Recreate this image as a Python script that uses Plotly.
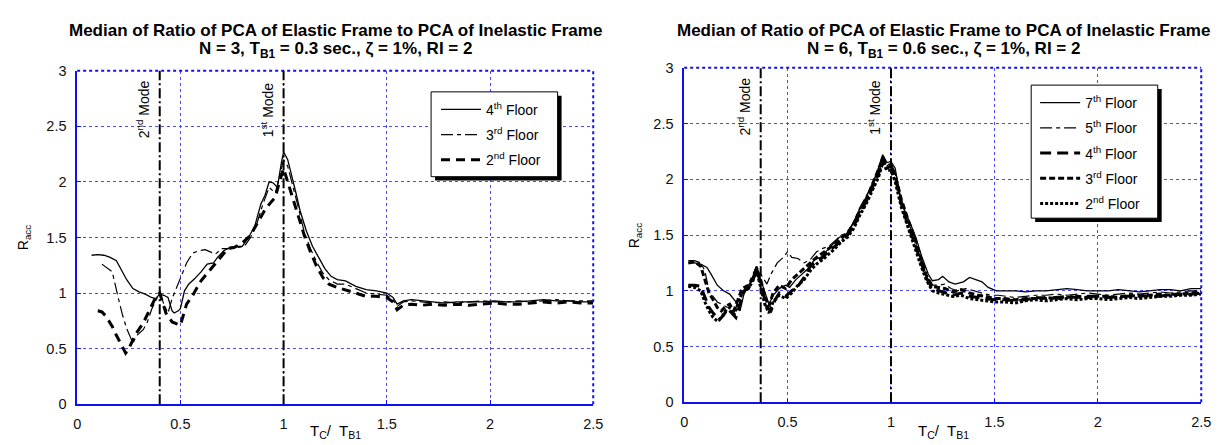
import plotly.graph_objects as go

# ---------------- data: left panel (N = 3) ----------------
L4_x = [0.07,0.10,0.13,0.16,0.19,0.21,0.24,0.27,0.30,0.33,0.36,0.38,0.40,0.42,0.44,0.46,0.47,0.49,0.50,0.52,0.54,0.57,0.60,0.63,0.66,0.68,0.71,0.74,0.77,0.80,0.83,0.86,0.89,0.91,0.93,0.95,0.97,0.99,1.00,1.02,1.04,1.06,1.08,1.11,1.14,1.17,1.20,1.23,1.26,1.30,1.35,1.40,1.45,1.50,1.53,1.55,1.58,1.62,1.67,1.72,1.78,1.84,1.90,1.96,2.02,2.08,2.14,2.20,2.26,2.32,2.38,2.44,2.50]
L4_y = [1.34,1.345,1.34,1.32,1.29,1.22,1.12,1.04,1.01,0.99,0.96,0.95,0.99,0.98,0.96,0.84,0.82,0.84,0.86,1.02,1.08,1.13,1.19,1.26,1.27,1.32,1.38,1.41,1.42,1.42,1.50,1.60,1.80,1.88,2.00,1.99,1.95,2.18,2.27,2.20,2.06,1.90,1.74,1.56,1.42,1.32,1.22,1.15,1.12,1.11,1.06,1.03,1.02,1.00,0.96,0.90,0.93,0.94,0.93,0.92,0.91,0.92,0.92,0.92,0.93,0.92,0.92,0.93,0.94,0.93,0.93,0.92,0.92]

L3_x = [0.12,0.15,0.17,0.20,0.22,0.24,0.27,0.29,0.32,0.34,0.36,0.38,0.40,0.42,0.44,0.46,0.48,0.50,0.53,0.56,0.59,0.62,0.65,0.67,0.70,0.74,0.78,0.81,0.84,0.87,0.90,0.93,0.96,0.98,1.00,1.02,1.04,1.07,1.10,1.13,1.16,1.19,1.22,1.26,1.30,1.35,1.40,1.45,1.50,1.53,1.55,1.58,1.62,1.67,1.72,1.78,1.84,1.90,1.96,2.02,2.08,2.14,2.20,2.26,2.32,2.38,2.44,2.50]
L3_y = [1.26,1.22,1.19,0.95,0.80,0.68,0.55,0.62,0.67,0.74,0.85,0.93,1.00,0.90,0.82,0.95,1.04,1.14,1.27,1.36,1.38,1.39,1.37,1.35,1.40,1.40,1.41,1.42,1.50,1.62,1.80,1.95,1.90,2.05,2.20,2.14,2.00,1.78,1.55,1.40,1.28,1.18,1.12,1.08,1.08,1.04,1.00,0.99,0.98,0.94,0.88,0.92,0.93,0.92,0.91,0.92,0.91,0.92,0.93,0.92,0.92,0.93,0.92,0.93,0.94,0.93,0.93,0.93]

L2_x = [0.10,0.12,0.14,0.17,0.19,0.21,0.235,0.25,0.28,0.32,0.35,0.38,0.40,0.43,0.46,0.50,0.53,0.56,0.60,0.635,0.68,0.73,0.76,0.80,0.84,0.88,0.91,0.94,0.96,0.98,1.00,1.02,1.04,1.07,1.10,1.13,1.16,1.19,1.22,1.26,1.30,1.35,1.40,1.45,1.50,1.53,1.55,1.58,1.62,1.67,1.72,1.78,1.84,1.90,1.96,2.02,2.08,2.14,2.20,2.26,2.32,2.38,2.44,2.50]
L2_y = [0.84,0.83,0.79,0.70,0.62,0.55,0.46,0.50,0.62,0.73,0.85,0.96,1.00,0.82,0.74,0.71,0.90,0.98,1.11,1.19,1.29,1.40,1.41,1.45,1.52,1.65,1.75,1.82,1.86,2.00,2.12,2.00,1.88,1.72,1.52,1.37,1.24,1.14,1.08,1.05,1.03,1.00,0.97,0.97,0.96,0.92,0.85,0.89,0.90,0.89,0.90,0.89,0.90,0.89,0.90,0.91,0.90,0.90,0.91,0.92,0.91,0.92,0.91,0.91]

# ---------------- data: right panel (N = 6) ----------------
R7_x = [0.02,0.05,0.08,0.11,0.13,0.16,0.19,0.22,0.25,0.27,0.29,0.31,0.33,0.35,0.37,0.39,0.41,0.43,0.46,0.49,0.51,0.54,0.57,0.60,0.63,0.66,0.69,0.72,0.75,0.78,0.81,0.84,0.87,0.90,0.93,0.96,0.98,1.00,1.02,1.045,1.07,1.09,1.12,1.15,1.18,1.20,1.23,1.25,1.28,1.31,1.35,1.38,1.41,1.44,1.47,1.51,1.55,1.60,1.65,1.70,1.75,1.80,1.85,1.90,1.95,2.00,2.05,2.10,2.15,2.20,2.25,2.30,2.35,2.40,2.45,2.50]
R7_y = [1.25,1.25,1.24,1.21,1.15,1.05,1.00,0.97,0.90,0.82,0.98,1.04,1.12,1.22,1.10,0.98,0.88,0.96,1.02,1.05,1.03,1.10,1.15,1.20,1.28,1.30,1.36,1.42,1.48,1.50,1.58,1.70,1.80,1.92,2.05,2.22,2.15,2.16,2.10,1.85,1.70,1.62,1.48,1.30,1.15,1.09,1.10,1.13,1.08,1.06,1.08,1.12,1.10,1.08,1.03,1.00,1.00,1.00,0.99,1.00,1.00,1.01,1.02,1.01,1.00,1.00,1.00,1.01,1.00,0.99,1.00,1.01,1.01,1.00,1.02,1.02]

R5_x = [0.02,0.05,0.08,0.10,0.12,0.14,0.16,0.18,0.21,0.24,0.26,0.29,0.32,0.35,0.37,0.40,0.42,0.45,0.48,0.50,0.52,0.55,0.58,0.61,0.64,0.67,0.70,0.73,0.76,0.79,0.82,0.85,0.88,0.91,0.94,0.96,0.98,1.00,1.02,1.05,1.08,1.11,1.14,1.17,1.20,1.23,1.26,1.29,1.32,1.36,1.40,1.44,1.48,1.52,1.56,1.60,1.65,1.70,1.75,1.80,1.85,1.90,1.95,2.00,2.05,2.10,2.15,2.20,2.25,2.30,2.35,2.40,2.45,2.50]
R5_y = [1.27,1.27,1.25,1.18,1.00,0.95,0.90,0.88,0.85,0.80,0.90,1.00,1.10,1.22,1.15,1.06,1.15,1.25,1.30,1.35,1.30,1.29,1.25,1.28,1.35,1.38,1.40,1.45,1.50,1.52,1.62,1.75,1.85,1.95,2.08,2.18,2.12,2.15,2.05,1.80,1.62,1.50,1.33,1.15,1.05,1.05,1.06,1.02,1.00,1.02,1.00,0.98,0.96,0.96,0.95,0.94,0.95,0.96,0.96,0.97,0.96,0.97,0.98,0.97,0.96,0.97,0.98,0.97,0.98,0.99,0.98,0.99,1.00,1.00]

R4_x = [0.02,0.05,0.08,0.10,0.12,0.14,0.17,0.19,0.21,0.23,0.25,0.27,0.29,0.31,0.33,0.35,0.37,0.40,0.42,0.44,0.46,0.49,0.52,0.55,0.58,0.61,0.64,0.67,0.70,0.73,0.76,0.79,0.82,0.85,0.88,0.91,0.94,0.96,0.98,1.00,1.02,1.05,1.08,1.11,1.14,1.17,1.20,1.23,1.26,1.30,1.34,1.38,1.42,1.46,1.50,1.55,1.60,1.65,1.70,1.75,1.80,1.85,1.90,1.95,2.00,2.05,2.10,2.15,2.20,2.25,2.30,2.35,2.40,2.45,2.50]
R4_y = [1.05,1.05,1.04,0.95,0.85,0.80,0.74,0.78,0.84,0.80,0.76,0.88,1.00,1.02,1.08,1.20,1.05,0.85,0.82,0.92,0.98,0.95,1.00,1.04,1.12,1.22,1.26,1.30,1.36,1.40,1.45,1.50,1.58,1.70,1.80,1.92,2.05,2.20,2.12,2.12,2.02,1.78,1.60,1.45,1.28,1.12,1.02,1.00,0.98,0.96,0.98,0.95,0.94,0.93,0.92,0.92,0.91,0.92,0.94,0.93,0.94,0.95,0.94,0.95,0.95,0.94,0.95,0.95,0.96,0.95,0.95,0.97,0.97,0.97,0.98]

R3_x = [0.02,0.05,0.08,0.10,0.12,0.14,0.16,0.18,0.20,0.22,0.24,0.26,0.28,0.31,0.33,0.35,0.37,0.39,0.41,0.43,0.46,0.49,0.52,0.55,0.58,0.61,0.64,0.67,0.70,0.73,0.76,0.79,0.82,0.85,0.88,0.91,0.94,0.96,0.98,1.00,1.02,1.05,1.08,1.11,1.14,1.17,1.20,1.23,1.26,1.30,1.34,1.38,1.42,1.46,1.50,1.55,1.60,1.65,1.70,1.75,1.80,1.85,1.90,1.95,2.00,2.05,2.10,2.15,2.20,2.25,2.30,2.35,2.40,2.45,2.50]
R3_y = [1.25,1.26,1.22,1.10,0.98,0.92,0.85,0.82,0.86,0.88,0.82,0.92,1.02,1.05,1.10,1.20,1.10,0.95,0.86,0.98,1.05,1.02,1.10,1.15,1.20,1.25,1.30,1.34,1.38,1.42,1.47,1.52,1.60,1.72,1.82,1.95,2.08,2.18,2.10,2.12,2.04,1.82,1.65,1.50,1.32,1.14,1.04,1.03,1.02,0.99,1.01,0.98,0.96,0.95,0.93,0.93,0.92,0.93,0.93,0.94,0.93,0.94,0.95,0.94,0.95,0.95,0.94,0.96,0.95,0.96,0.97,0.96,0.97,0.98,0.99]

R2_x = [0.02,0.05,0.08,0.10,0.12,0.14,0.16,0.18,0.20,0.22,0.24,0.26,0.28,0.31,0.33,0.35,0.37,0.39,0.41,0.43,0.46,0.49,0.52,0.55,0.58,0.61,0.64,0.67,0.70,0.73,0.76,0.79,0.82,0.85,0.88,0.91,0.94,0.96,0.98,1.00,1.02,1.05,1.08,1.11,1.14,1.17,1.20,1.23,1.26,1.30,1.34,1.38,1.42,1.46,1.50,1.55,1.60,1.65,1.70,1.75,1.80,1.85,1.90,1.95,2.00,2.05,2.10,2.15,2.20,2.25,2.30,2.35,2.40,2.45,2.50]
R2_y = [1.04,1.03,1.00,0.90,0.82,0.76,0.73,0.76,0.82,0.85,0.78,0.88,0.98,1.02,1.08,1.18,1.02,0.88,0.80,0.90,0.96,0.93,0.98,1.05,1.10,1.18,1.24,1.28,1.33,1.38,1.44,1.48,1.56,1.68,1.78,1.90,2.02,2.15,2.08,2.08,1.98,1.75,1.58,1.42,1.25,1.10,1.00,0.98,0.97,0.95,0.96,0.93,0.92,0.91,0.90,0.90,0.89,0.91,0.92,0.91,0.92,0.93,0.92,0.93,0.93,0.92,0.93,0.94,0.93,0.94,0.95,0.95,0.96,0.96,0.97]

modes_left = [0.40, 1.00]
modes_right = [0.37, 1.00]
mode_labels = ["2<sup>nd</sup> Mode", "1<sup>st</sup> Mode"]

left_names = ["4<sup>th</sup> Floor", "3<sup>rd</sup> Floor", "2<sup>nd</sup> Floor"]
right_names = ["7<sup>th</sup> Floor", "5<sup>th</sup> Floor", "4<sup>th</sup> Floor", "3<sup>rd</sup> Floor", "2<sup>nd</sup> Floor"]

tick_vals = [0, 0.5, 1, 1.5, 2, 2.5, 3]
tick_text = ["0", "0.5", "1", "1.5", "2", "2.5", "3"]

titles = [
    ("Median of Ratio of PCA of Elastic Frame to PCA of Inelastic Frame",
     "N = 3, T<sub>B1</sub> = 0.3 sec., ζ = 1%, RI = 2"),
    ("Median of Ratio of PCA of Elastic Frame to PCA of Inelastic Frame",
     "N = 6, T<sub>B1</sub> = 0.6 sec., ζ = 1%, RI = 2"),
]

# ---------------- figure ----------------
W, H = 1231, 445
FONT = "Liberation Sans, Arial, sans-serif"
BLUE = "#1010ee"
GRID = "#4a4aff"

def px(x):
    return x / W

def py(y):
    return 1 - y / H

fig = go.Figure()

left_styles = [dict(width=1.3, dash="solid"),
               dict(width=1.2, dash="12px,4px,4px,4px"),
               dict(width=3, dash="9px,6px")]
right_styles = [dict(width=1.3, dash="solid"),
                dict(width=1.2, dash="12px,4px,4px,4px"),
                dict(width=3, dash="11px,6px"),
                dict(width=3, dash="6px,3px"),
                dict(width=3, dash="3px,2px")]

for i, (xs, ys) in enumerate([(L4_x, L4_y), (L3_x, L3_y), (L2_x, L2_y)]):
    fig.add_trace(go.Scatter(x=xs, y=ys, mode="lines", name=left_names[i],
                             line=dict(color="black", **left_styles[i]),
                             xaxis="x", yaxis="y", legend="legend",
                             legendgroup="l%d" % i))
for i, (xs, ys) in enumerate([(R7_x, R7_y), (R5_x, R5_y), (R4_x, R4_y), (R3_x, R3_y), (R2_x, R2_y)]):
    fig.add_trace(go.Scatter(x=xs, y=ys, mode="lines", name=right_names[i],
                             line=dict(color="black", **right_styles[i]),
                             xaxis="x2", yaxis="y2", legend="legend2",
                             legendgroup="r%d" % i))

axis_common = dict(
    range=[0, 2.5], tickvals=[0, 0.5, 1, 1.5, 2, 2.5], ticktext=tick_text[:6],
    showline=True, linecolor=BLUE, linewidth=1.5,
    ticks="inside", ticklen=4, tickcolor=BLUE, tickwidth=1,
    showgrid=True, gridcolor=GRID, griddash="dot", gridwidth=1,
    zeroline=False, tickfont=dict(family=FONT, size=14.5, color="#111"),
    ticklabelstandoff=6,
)
yaxis_common = dict(axis_common)
yaxis_common.update(range=[0, 3], tickvals=tick_vals, ticktext=tick_text, ticklabelstandoff=6)

legend_common = dict(xanchor="left", yanchor="top",
                     bgcolor="rgba(0,0,0,0)", borderwidth=0,
                     font=dict(family=FONT, size=14, color="black"),
                     tracegroupgap=4, traceorder="grouped", itemwidth=40)

fig.update_layout(
    width=W, height=H, autosize=False,
    margin=dict(l=0, r=0, t=0, b=0),
    paper_bgcolor="white", plot_bgcolor="white",
    font=dict(family=FONT, color="black"),
    xaxis=dict(axis_common, domain=[px(74), px(596)], anchor="y"),
    yaxis=dict(yaxis_common, domain=[py(411), py(65)], anchor="x"),
    xaxis2=dict(axis_common, domain=[px(688), px(1211)], anchor="y2"),
    yaxis2=dict(yaxis_common, domain=[py(409), py(62)], anchor="x2"),
    legend=dict(legend_common, x=px(437), y=py(89)),
    legend2=dict(legend_common, x=px(1043), y=py(82)),
    showlegend=True,
)

shapes = []
annotations = []
for xa, ya, modes in [("x", "y", modes_left), ("x2", "y2", modes_right)]:
    # dotted top/right frame
    shapes.append(dict(type="line", xref=xa + " domain", yref=ya + " domain", x0=0, x1=1, y0=1, y1=1,
                       line=dict(color=BLUE, width=2, dash="dot")))
    shapes.append(dict(type="line", xref=xa + " domain", yref=ya + " domain", x0=1, x1=1, y0=0, y1=1,
                       line=dict(color=BLUE, width=2, dash="dot")))
    for m, lab in zip(modes, mode_labels):
        shapes.append(dict(type="line", xref=xa, yref=ya + " domain", x0=m, x1=m, y0=0, y1=1,
                           line=dict(color="black", width=2, dash="10px,3px,2px,3px"), layer="above"))
        annotations.append(dict(x=m, y=2.65, xref=xa, yref=ya, text=lab, textangle=-90,
                                showarrow=False, xshift=-17, font=dict(family=FONT, size=14, color="black")))

# legend frames with drop shadows
for (x0, y0, x1, y1) in [(432, 87, 560, 175), (1039, 80, 1167, 218)]:
    shapes.append(dict(type="rect", xref="paper", yref="paper",
                       x0=px(x0 + 4), x1=px(x1 + 4), y0=py(y1 + 4), y1=py(y0 + 4),
                       fillcolor="black", line=dict(width=0), layer="above"))
    shapes.append(dict(type="rect", xref="paper", yref="paper",
                       x0=px(x0), x1=px(x1), y0=py(y1), y1=py(y0),
                       fillcolor="white", line=dict(color="black", width=1), layer="above"))

for cx, (t1, t2) in zip([335, 950], titles):
    annotations.append(dict(x=px(cx), y=py(23), xref="paper", yref="paper", text="<b>%s</b>" % t1,
                            showarrow=False, xanchor="center", yanchor="middle",
                            font=dict(family=FONT, size=17, color="black")))
    annotations.append(dict(x=px(cx), y=py(44), xref="paper", yref="paper", text="<b>%s</b>" % t2,
                            showarrow=False, xanchor="center", yanchor="middle",
                            font=dict(family=FONT, size=17, color="black")))
    annotations.append(dict(x=px(cx), y=py(439), xref="paper", yref="paper",
                            text="T<sub>C</sub>/  T<sub>B1</sub>", showarrow=False,
                            xanchor="center", yanchor="middle",
                            font=dict(family=FONT, size=15, color="black")))

for cx, cy in [(21, 238), (638, 236)]:
    annotations.append(dict(x=px(cx), y=py(cy), xref="paper", yref="paper", text="R<sub>acc</sub>",
                            textangle=-90, showarrow=False, xanchor="center", yanchor="middle",
                            font=dict(family=FONT, size=14, color="black")))

fig.update_layout(shapes=shapes, annotations=annotations)
fig.write_html("out.html")
